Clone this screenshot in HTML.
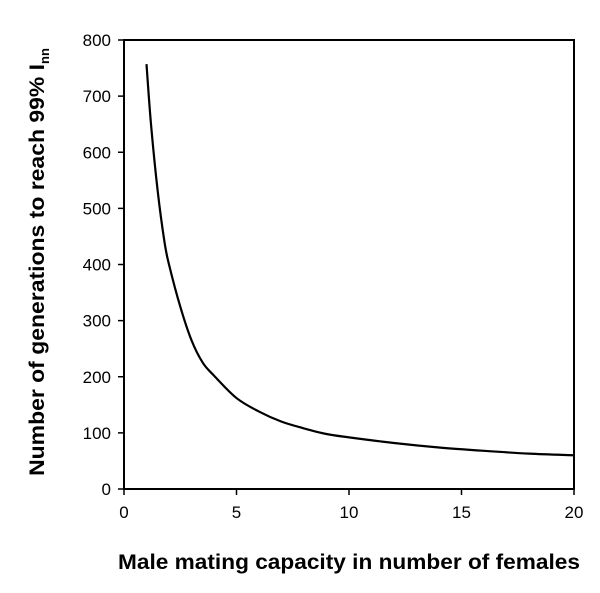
<!DOCTYPE html>
<html><head><meta charset="utf-8"><style>
body{margin:0;background:#fff;}
svg{display:block;font-family:"Liberation Sans",Arial,sans-serif;}
</style></head><body>
<svg width="600" height="593" viewBox="0 0 600 593">
<g id="axes"></g>
<g id="plot"></g>
<text x="349" y="569" text-anchor="middle" font-size="21" font-weight="bold" textLength="462" lengthAdjust="spacingAndGlyphs">Male mating capacity in number of females</text>
<text transform="translate(44,262) rotate(-90)" text-anchor="middle" font-size="21" font-weight="bold"><tspan textLength="412" lengthAdjust="spacingAndGlyphs">Number of generations to reach 99% I</tspan><tspan font-size="13" dy="5">nn</tspan></text>
</svg>
<script>
const xTicks=[0,5,10,15,20];
const yTicks=[0,100,200,300,400,500,600,700,800];
const xVals=[1,1.2,1.5,1.8,2,2.5,3,3.5,4,5,6,7,8,9,10,12,14,16,18,20];
const yVals=[757,650,530,440,400,325,265,225,202,162,138,120,108,98,92,82,74,68,63,60];
const X0=124,X1=574,Y0=489,Y1=40;
const sx=v=>X0+(v-0)/(20-0)*(X1-X0);
const sy=v=>Y0-(v-0)/(800-0)*(Y0-Y1);
const NS="http://www.w3.org/2000/svg";
const axes=document.getElementById('axes'),plot=document.getElementById('plot');
function mk(t,a,p){const e=document.createElementNS(NS,t);for(const k in a)e.setAttribute(k,a[k]);p.appendChild(e);return e;}
const frame=mk('rect',{x:X0,y:Y1,width:X1-X0,height:Y0-Y1,fill:'none',stroke:'#000','stroke-width':2},axes);


xTicks.forEach(t=>{
 const l=mk('line',{x1:sx(t),x2:sx(t),y1:Y0,y2:Y0+6,stroke:'#000','stroke-width':1.5},axes);
 
 
 const tx=mk('text',{x:sx(t),y:Y0+29,'text-anchor':'middle','font-size':17},axes);tx.textContent=t;
 
 
});
yTicks.forEach(t=>{
 const l=mk('line',{x1:X0-6,x2:X0,y1:sy(t),y2:sy(t),stroke:'#000','stroke-width':1.5},axes);
 
 
 const tx=mk('text',{x:X0-13,y:sy(t)+6,'text-anchor':'end','font-size':17},axes);tx.textContent=t;
 
 
});
const pts=xVals.map((x,i)=>[sx(x),sy(yVals[i])]);
let d='M'+pts[0][0]+','+pts[0][1];
for(let i=0;i<pts.length-1;i++){
 const p0=pts[i-1]||pts[i],p1=pts[i],p2=pts[i+1],p3=pts[i+2]||p2;
 const c1=[p1[0]+(p2[0]-p0[0])/6,p1[1]+(p2[1]-p0[1])/6],c2=[p2[0]-(p3[0]-p1[0])/6,p2[1]-(p3[1]-p1[1])/6];
 d+=` C${c1[0]},${c1[1]} ${c2[0]},${c2[1]} ${p2[0]},${p2[1]}`;
}
const path=mk('path',{d:d,fill:'none',stroke:'#000','stroke-width':2.2},plot);


</script>
</body></html>
